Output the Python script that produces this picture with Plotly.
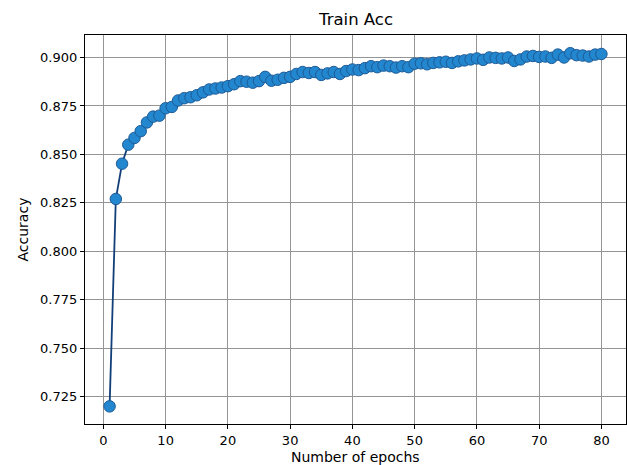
import plotly.graph_objects as go

epochs = list(range(1, 81))
train_acc = [
    0.7200, 0.8270, 0.8452, 0.8550, 0.8585, 0.8620, 0.8665, 0.8695, 0.8700, 0.8738,
    0.8745, 0.8778, 0.8790, 0.8795, 0.8805, 0.8820, 0.8835, 0.8840, 0.8845, 0.8852,
    0.8862, 0.8878, 0.8875, 0.8870, 0.8878, 0.8900, 0.8880, 0.8885, 0.8895, 0.8900,
    0.8915, 0.8925, 0.8920, 0.8925, 0.8910, 0.8918, 0.8925, 0.8915, 0.8930, 0.8938,
    0.8935, 0.8945, 0.8955, 0.8950, 0.8958, 0.8955, 0.8948, 0.8955, 0.8950, 0.8968,
    0.8970, 0.8965, 0.8972, 0.8975, 0.8978, 0.8972, 0.8980, 0.8985, 0.8990, 0.8995,
    0.8988, 0.9000, 0.8998, 0.8995, 0.9000, 0.8982, 0.8990, 0.9005, 0.9008, 0.9003,
    0.9005, 0.8998, 0.9015, 0.9000, 0.9022, 0.9012, 0.9010, 0.9005, 0.9015, 0.9018,
]
x_ticks = [0, 10, 20, 30, 40, 50, 60, 70, 80]
y_ticks = [0.725, 0.750, 0.775, 0.800, 0.825, 0.850, 0.875, 0.900]
title = "Train Acc"
x_label = "Number of epochs"
y_label = "Accuracy"

font_family = "DejaVu Sans"
W, H = 627, 465
ML, MR, MT, MB = 85, 1, 35, 41

fig = go.Figure()
fig.add_trace(go.Scatter(
    x=epochs, y=train_acc, mode="lines+markers",
    line=dict(color="#123f78", width=1.8),
    marker=dict(size=11.5, color="#2387cf", line=dict(color="#1d5a96", width=1)),
    showlegend=False,
))

axis_common = dict(
    showline=True, linecolor="black", linewidth=1.2, mirror=True,
    ticks="outside", ticklen=4, tickwidth=1, tickcolor="black",
    showgrid=True, gridcolor="#959595", gridwidth=1,
    zeroline=False, automargin=False,
    tickfont=dict(family=font_family, size=13, color="black"),
)

pw = W - ML - MR
ph = H - MT - MB

fig.update_layout(
    width=W, height=H,
    margin=dict(l=ML, r=MR, t=MT, b=MB, autoexpand=False),
    paper_bgcolor="white", plot_bgcolor="white",
    font=dict(family=font_family, color="black"),
    xaxis=dict(range=[-2.95, 83.95], tickvals=x_ticks, **axis_common),
    yaxis=dict(range=[0.7109, 0.9116], tickvals=y_ticks, tickformat=".3f", **axis_common),
    annotations=[
        dict(text=title, xref="paper", yref="paper", x=0.5, y=1 + 15 / ph,
             xanchor="center", yanchor="middle", showarrow=False,
             font=dict(family=font_family, size=16.5, color="black")),
        dict(text=x_label, xref="paper", yref="paper", x=0.5, y=-(457 - (H - MB)) / ph,
             xanchor="center", yanchor="middle", showarrow=False,
             font=dict(family=font_family, size=14, color="black")),
        dict(text=y_label, xref="paper", yref="paper", x=-(ML - 22) / pw, y=0.5,
             xanchor="center", yanchor="middle", showarrow=False, textangle=-90,
             font=dict(family=font_family, size=14, color="black")),
    ],
)

fig.write_html(
    "out.html",
    config={"displayModeBar": False},
    post_script="document.body.style.margin='0';document.body.style.overflow='hidden';",
)
